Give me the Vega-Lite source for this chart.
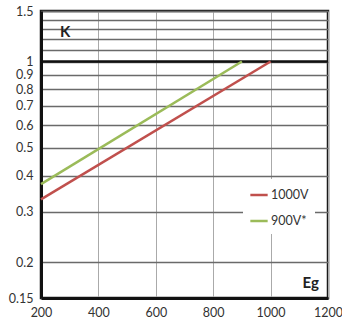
{
  "$schema": "https://vega.github.io/schema/vega-lite/v6.json",
  "width": 287,
  "height": 287,
  "autosize": {"type": "none"},
  "padding": {"left": 41, "top": 11, "right": 14, "bottom": 23},
  "background": "white",
  "config": {
    "font": "Lato",
    "view": {"stroke": "#1a1a1a", "strokeWidth": 2.5},
    "axis": {"labelFont": "Lato", "labelFontSize": 12.5, "labelColor": "#333333", "ticks": false, "title": null, "labelFlush": false, "labelOverlap": false, "labelBound": false}
  },
  "datasets": {
    "lines": [
      {"Eg": 200, "K": 0.331, "series": "1000V"},
      {"Eg": 1000, "K": 1.0, "series": "1000V"},
      {"Eg": 200, "K": 0.374, "series": "900V*"},
      {"Eg": 900, "K": 1.0, "series": "900V*"}
    ],
    "ref": [{"K": 1}],
    "labels": [
      {"Eg": 284, "K": 1.27, "text": "K"},
      {"Eg": 1140, "K": 0.169, "text": "Eg"}
    ]
  },
  "layer": [
    {
      "data": {"name": "ref"},
      "mark": {"type": "rule", "color": "#111111", "strokeWidth": 2.5},
      "encoding": {
        "y": {"field": "K", "type": "quantitative",
          "scale": {"type": "log", "domain": [0.15, 1.5], "nice": false},
          "axis": {
            "values": [0.15, 0.2, 0.3, 0.4, 0.5, 0.6, 0.7, 0.8, 0.9, 1, 1.1, 1.2, 1.3, 1.4, 1.5],
            "format": ".2~f",
            "labelExpr": "datum.value > 1.05 && datum.value < 1.45 ? '' : datum.label",
            "grid": true, "gridColor": "#6a6a6a", "gridWidth": 1.5,
            "domainColor": "#111111", "domainWidth": 3, "labelPadding": 8
          }
        }
      }
    },
    {
      "data": {"name": "lines"},
      "mark": {"type": "line", "strokeWidth": 2.5},
      "encoding": {
        "x": {"field": "Eg", "type": "quantitative",
          "scale": {"domain": [200, 1200], "nice": false},
          "axis": {
            "values": [200, 400, 600, 800, 1000, 1200],
            "format": "d",
            "grid": true, "gridColor": "#aaaaaa", "gridWidth": 1,
            "domainColor": "#111111", "domainWidth": 3, "labelPadding": 8
          }
        },
        "y": {"field": "K", "type": "quantitative"},
        "color": {"field": "series", "type": "nominal",
          "scale": {"domain": ["1000V", "900V*"], "range": ["#c0504d", "#9bbb59"]},
          "legend": {
            "title": null, "orient": "none", "legendX": 202, "legendY": 168,
            "fillColor": "white", "padding": 6, "symbolType": "stroke",
            "symbolSize": 300, "symbolStrokeWidth": 2.5, "labelFontSize": 12.5,
            "labelColor": "#333333", "labelFont": "Lato", "rowPadding": 9,
            "labelOffset": 2
          }
        }
      }
    },
    {
      "data": {"name": "labels"},
      "mark": {"type": "text", "fontWeight": "bold", "fontSize": 15, "color": "#222222", "font": "Lato"},
      "encoding": {
        "x": {"field": "Eg", "type": "quantitative"},
        "y": {"field": "K", "type": "quantitative"},
        "text": {"field": "text"}
      }
    }
  ]
}
